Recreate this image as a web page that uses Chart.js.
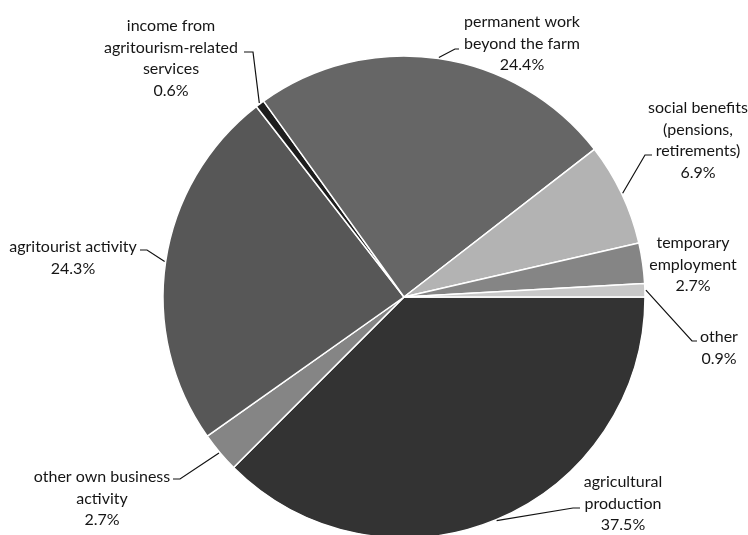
<!DOCTYPE html>
<html><head><meta charset="utf-8">
<script src="https://cdn.jsdelivr.net/npm/chart.js@4.4.0/dist/chart.umd.min.js"></script>
<style>html,body{margin:0;padding:0;background:#fff;overflow:hidden;}#wrap{position:relative;width:748px;height:535px;}</style>
</head><body><div id="wrap"><canvas id="c"></canvas></div>
<script>
// ---- data ----
const categoryLines = [
  ['agricultural', 'production'],
  ['other own business', 'activity'],
  ['agritourist activity'],
  ['income from', 'agritourism-related', 'services'],
  ['permanent work', 'beyond the farm'],
  ['social benefits', '(pensions,', 'retirements)'],
  ['temporary', 'employment'],
  ['other']
];
const categories = categoryLines.map(l => l.join(' '));
const shares = [37.5, 2.7, 24.3, 0.6, 24.4, 6.9, 2.7, 0.9];

// ---- styles / annotation layout ----
const sliceColors = ['#333333', '#858585', '#575757', '#1e1e1e', '#666666', '#b3b3b3', '#858585', '#c8c8c8'];
const labelLayout = [
  { cx: 623, y0: 482, elbow: [573, 508], end: [580, 508] },
  { cx: 102, y0: 477, elbow: [180, 479], end: [173, 479] },
  { cx: 73,  y0: 247, elbow: [147, 250], end: [140, 250] },
  { cx: 171, y0: 26,  elbow: [253, 52],  end: [244, 52] },
  { cx: 522, y0: 22,  elbow: [455, 49],  end: [459, 49] },
  { cx: 698, y0: 108, elbow: [645, 155], end: [652, 155] },
  { cx: 693, y0: 243, elbow: null, end: null },
  { cx: 719, y0: 337, elbow: [692, 341], end: [697, 341] }
];
const lineGap = 21.5;
const labelFont = '16px Lato';

const leaderLabels = {
  id: 'leaderLabels',
  afterDraw(chart) {
    const ctx = chart.ctx;
    const meta = chart.getDatasetMeta(0);
    ctx.save();
    ctx.strokeStyle = '#111';
    ctx.lineWidth = 1.2;
    ctx.fillStyle = '#151515';
    ctx.font = labelFont;
    ctx.textAlign = 'center';
    ctx.textBaseline = 'middle';
    meta.data.forEach((arc, i) => {
      const p = arc.getProps(['x', 'y', 'startAngle', 'endAngle', 'outerRadius'], true);
      const mid = (p.startAngle + p.endAngle) / 2;
      const L = labelLayout[i];
      if (L.elbow) {
        const ax = p.x + Math.cos(mid) * (p.outerRadius + 1);
        const ay = p.y + Math.sin(mid) * (p.outerRadius + 1);
        ctx.beginPath();
        ctx.moveTo(ax, ay);
        ctx.lineTo(L.elbow[0], L.elbow[1]);
        ctx.lineTo(L.end[0], L.end[1]);
        ctx.stroke();
      }
      const lines = categoryLines[i].concat([shares[i].toFixed(1) + '%']);
      lines.forEach((t, k) => ctx.fillText(t, L.cx, L.y0 + k * lineGap));
    });
    ctx.restore();
  }
};

new Chart(document.getElementById('c'), {
  type: 'pie',
  data: {
    labels: categories,
    datasets: [{
      data: shares,
      backgroundColor: sliceColors,
      borderColor: '#ffffff',
      borderWidth: 1.5,
      hoverOffset: 0
    }]
  },
  options: {
    responsive: true,
    maintainAspectRatio: false,
    animation: false,
    rotation: 90,
    radius: 241,
    layout: { padding: { left: 60, right: 0, top: 59, bottom: 0 } },
    plugins: { legend: { display: false }, tooltip: { enabled: false } }
  },
  plugins: [leaderLabels]
});
</script>
</body></html>
